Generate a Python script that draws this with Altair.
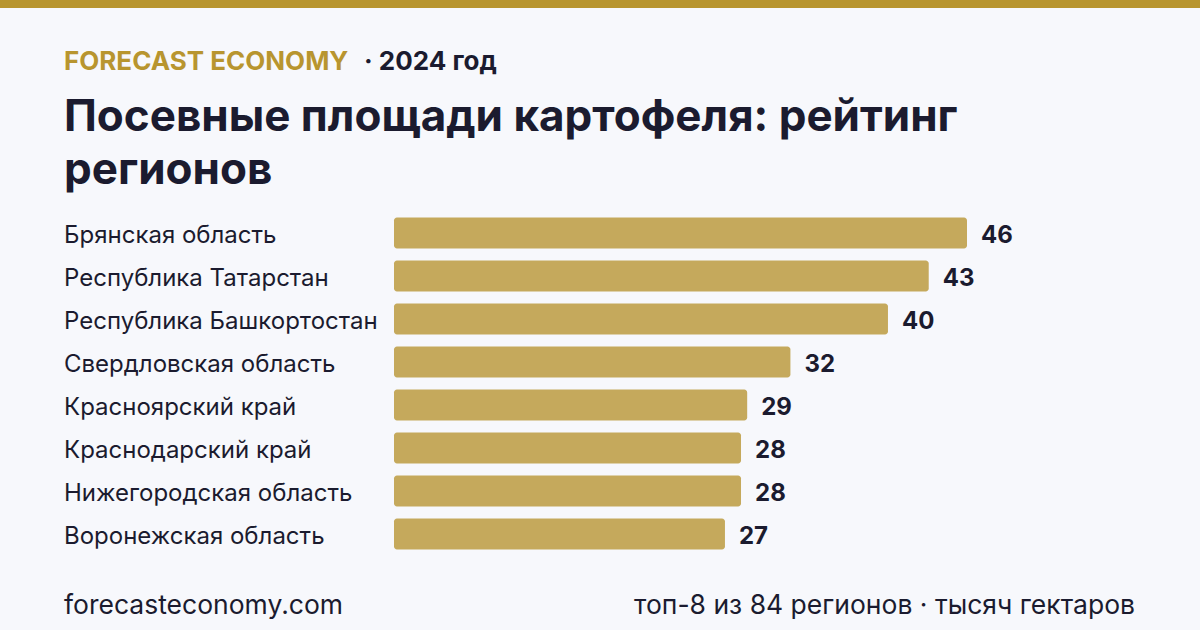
import altair as alt
import pandas as pd

regions = ["Брянская область", "Республика Татарстан", "Республика Башкортостан",
           "Свердловская область", "Красноярский край", "Краснодарский край",
           "Нижегородская область", "Воронежская область"]
values = [46.4, 43.3, 40.0, 32.1, 28.6, 28.1, 28.1, 26.8]

brand = "FORECAST ECONOMY"
year = "· 2024 год"
title_lines = ["Посевные площади картофеля: рейтинг", "регионов"]
footer_left = "forecasteconomy.com"
footer_right = "топ-8 из 84 регионов · тысяч гектаров"

FONT = "Inter"
DARK = "#1b1b2f"
GOLD = "#b8952f"
BAR = "#c5a95c"
BG = "#f7f8fc"

df = pd.DataFrame({"region": regions, "value": values})

W, H = 1200, 630

xs = alt.Scale(domain=[0, 46.4], range=[394, 967])
ys = alt.Scale(domain=regions, range=[211.5, 555.5], paddingInner=0.3, paddingOuter=0.15)

base = alt.Chart(df)

bars = base.mark_bar(color=BAR, cornerRadius=3, height=31).encode(
    x=alt.X("value:Q", scale=xs, axis=None),
    x2=alt.datum(0),
    y=alt.Y("region:N", scale=ys, axis=None, sort=regions),
)

vals = base.mark_text(align="left", baseline="middle", dx=14, dy=3, font=FONT,
                      fontSize=24, fontWeight=700, color=DARK).encode(
    x=alt.X("value:Q", scale=xs),
    y=alt.Y("region:N", scale=ys, sort=regions),
    text=alt.Text("value:Q", format=".0f"),
)

labels = base.mark_text(align="left", baseline="middle", dy=3, font=FONT,
                        fontSize=24, color=DARK).encode(
    x=alt.value(64),
    y=alt.Y("region:N", scale=ys, sort=regions),
    text="region:N",
)

one = alt.Chart(pd.DataFrame({"a": [0]}))

strip = one.mark_rect(color=GOLD).encode(
    x=alt.value(0), x2=alt.value(W), y=alt.value(0), y2=alt.value(8))

brand_t = one.mark_text(align="left", baseline="alphabetic", font=FONT, fontSize=26,
                        fontWeight=700, color=GOLD, text=brand).encode(
    x=alt.value(64), y=alt.value(70))
year_t = one.mark_text(align="left", baseline="alphabetic", font=FONT, fontSize=26,
                       fontWeight=700, color=DARK, text=year).encode(
    x=alt.value(364), y=alt.value(70))

title_t = one.mark_text(align="left", baseline="alphabetic", font=FONT, fontSize=44,
                        fontWeight=700, color=DARK, lineHeight=53, text=title_lines).encode(
    x=alt.value(64), y=alt.value(131))

foot_l = one.mark_text(align="left", baseline="alphabetic", font=FONT, fontSize=26.5,
                       color=DARK, text=footer_left).encode(
    x=alt.value(64), y=alt.value(614))
foot_r = one.mark_text(align="right", baseline="alphabetic", font=FONT, fontSize=26.5,
                       color=DARK, text=footer_right).encode(
    x=alt.value(1135), y=alt.value(614))

chart = alt.layer(strip, bars, vals, labels, brand_t, year_t, title_t, foot_l, foot_r).properties(
    width=W, height=H, padding=0, autosize=alt.AutoSizeParams(type="none"),
    background=BG,
).configure_view(stroke=None)

chart.save("out.html", embed_options={"renderer": "svg", "actions": False})
